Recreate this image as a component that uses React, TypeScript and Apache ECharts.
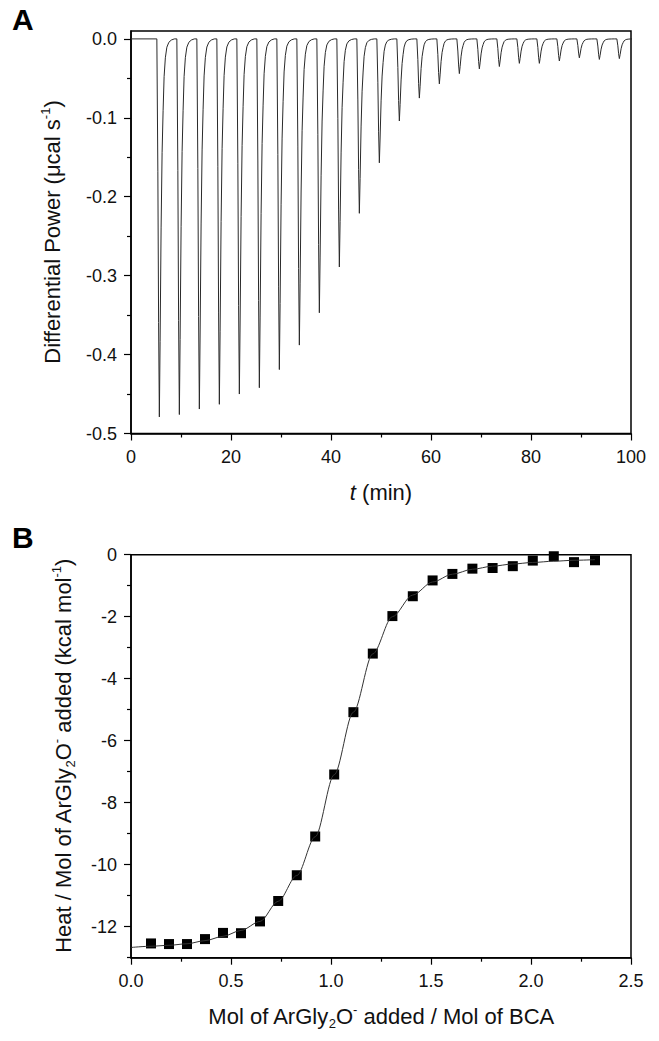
import React, { useEffect, useRef } from 'react';
import * as echarts from 'echarts';

// Panel A: ITC thermogram (injection times in min, peak minima in µcal/s)
const peakTimes = [5.67, 9.67, 13.67, 17.67, 21.67, 25.67, 29.67, 33.67, 37.67, 41.67, 45.67, 49.67, 53.67, 57.67, 61.67, 65.67, 69.67, 73.67, 77.67, 81.67, 85.67, 89.67, 93.67, 97.67];
const peakDepths = [-0.479, -0.476, -0.469, -0.463, -0.45, -0.442, -0.419, -0.388, -0.347, -0.289, -0.221, -0.157, -0.104, -0.075, -0.057, -0.044, -0.038, -0.035, -0.031, -0.031, -0.028, -0.024, -0.026, -0.025];
// shape of one injection peak (offset from minimum in min, fraction of depth)
const peakShapeDt = [-0.5, -0.3, -0.15, 0, 0.15, 0.35, 0.55, 0.75, 0.95, 1.2, 1.5, 1.9, 2.4, 3.0];
const peakShapeFrac = [0, 0.35, 0.75, 1, 0.8, 0.5, 0.3, 0.19, 0.1, 0.05, 0.022, 0.009, 0.003, 0];
const timeStart = 0;
const timeEnd = 100;

// Panel B: integrated heats
const molarRatio = [0.1, 0.19, 0.28, 0.37, 0.46, 0.55, 0.645, 0.736, 0.829, 0.921, 1.016, 1.112, 1.209, 1.307, 1.409, 1.508, 1.607, 1.707, 1.808, 1.909, 2.009, 2.114, 2.215, 2.32];
const heat = [-12.54, -12.56, -12.56, -12.4, -12.2, -12.21, -11.83, -11.17, -10.34, -9.09, -7.09, -5.08, -3.19, -1.98, -1.34, -0.83, -0.62, -0.45, -0.43, -0.37, -0.19, -0.05, -0.24, -0.18];
const fitRatio = [0, 0.1, 0.19, 0.28, 0.37, 0.46, 0.55, 0.645, 0.736, 0.829, 0.921, 1.016, 1.112, 1.209, 1.307, 1.409, 1.508, 1.607, 1.707, 1.808, 1.909, 2.009, 2.114, 2.215, 2.32];
const fitHeat = [-12.67, -12.63, -12.6, -12.55, -12.45, -12.31, -12.12, -11.83, -11.18, -10.35, -9.1, -7.1, -5.08, -3.2, -2.0, -1.3, -0.88, -0.63, -0.47, -0.37, -0.3, -0.25, -0.21, -0.18, -0.16];

// tick values
const yTicksA = [0, -0.1, -0.2, -0.3, -0.4, -0.5];
const yMinorA = [-0.05, -0.15, -0.25, -0.35, -0.45];
const yTicksB = [0, -2, -4, -6, -8, -10, -12];
const yMinorB = [-1, -3, -5, -7, -9, -11, -13];

const FONT = '"Liberation Sans", Arial, Helvetica, sans-serif';
const INK = '#111';

export default function App() {
  const ref = useRef<HTMLDivElement>(null);
  useEffect(() => {
    if (!ref.current) return;
    const chart = echarts.init(ref.current, undefined, { renderer: 'svg' });

    const trace: [number, number][] = [[timeStart, 0]];
    peakTimes.forEach((t, i) => {
      peakShapeDt.forEach((dt, j) => {
        trace.push([t + dt, peakDepths[i] * peakShapeFrac[j]]);
      });
    });
    trace.push([timeEnd, 0]);

    const axisLine = { show: true, onZero: false, lineStyle: { color: '#000', width: 1.5 } };
    const label = { fontSize: 18, color: INK, fontFamily: FONT, margin: 14 };
    const tickStyle = { color: '#000', width: 1.2 };

    const rich = {
      sup: { fontSize: 13, verticalAlign: 'top', lineHeight: 13, fontFamily: FONT, fill: INK },
      sub: { fontSize: 13, verticalAlign: 'bottom', lineHeight: 13, fontFamily: FONT, fill: INK },
      it: { fontStyle: 'italic', fontSize: 22, fontFamily: FONT, fill: INK },
    };
    const titleStyle = (text: string) => ({
      text,
      fontSize: 22,
      fontFamily: FONT,
      fill: INK,
      align: 'center',
      verticalAlign: 'middle',
      lineHeight: 27,
      rich,
    });

    chart.setOption({
      animation: false,
      backgroundColor: '#fff',
      grid: [
        { left: 131, top: 31, width: 500, height: 402.5, show: true, borderColor: '#000', borderWidth: 1.5, backgroundColor: 'transparent' },
        { left: 131, top: 554.7, width: 500, height: 403, show: true, borderColor: '#000', borderWidth: 1.5, backgroundColor: 'transparent' },
      ],
      xAxis: [
        {
          gridIndex: 0, type: 'value', min: 0, max: 100, interval: 20,
          axisLine, splitLine: { show: false },
          axisTick: { show: true, inside: false, length: 7, lineStyle: tickStyle },
          minorTick: { show: true, splitNumber: 2, length: 4, lineStyle: tickStyle },
          axisLabel: { ...label },
        },
        {
          gridIndex: 1, type: 'value', min: 0, max: 2.5, interval: 0.5,
          axisLine, splitLine: { show: false },
          axisTick: { show: true, inside: false, length: 7, lineStyle: tickStyle },
          minorTick: { show: true, splitNumber: 2, length: 4, lineStyle: tickStyle },
          axisLabel: { ...label, formatter: (v: number) => v.toFixed(1) },
        },
      ],
      yAxis: [
        {
          gridIndex: 0, type: 'value', min: -0.5, max: 0.01,
          axisLine, splitLine: { show: false },
          axisTick: { show: true, inside: false, length: 7, lineStyle: tickStyle, customValues: yTicksA },
          axisLabel: {
            ...label, customValues: yTicksA,
            formatter: (v: number) => (Math.abs(v) < 1e-9 ? '0.0' : v.toFixed(1)),
          },
        },
        {
          gridIndex: 0, type: 'value', min: -0.5, max: 0.01, position: 'left',
          axisLine: { show: false }, splitLine: { show: false },
          axisTick: { show: true, inside: false, length: 4, lineStyle: tickStyle, customValues: yMinorA },
          axisLabel: { show: false },
        },
        {
          gridIndex: 1, type: 'value', min: -13, max: 0,
          axisLine, splitLine: { show: false },
          axisTick: { show: true, inside: false, length: 7, lineStyle: tickStyle, customValues: yTicksB },
          axisLabel: { ...label, customValues: yTicksB, formatter: (v: number) => String(Math.round(v)) },
        },
        {
          gridIndex: 1, type: 'value', min: -13, max: 0, position: 'left',
          axisLine: { show: false }, splitLine: { show: false },
          axisTick: { show: true, inside: false, length: 4, lineStyle: tickStyle, customValues: yMinorB },
          axisLabel: { show: false },
        },
      ],
      series: [
        {
          type: 'line', xAxisIndex: 0, yAxisIndex: 0, data: trace,
          showSymbol: false, symbol: 'none',
          lineStyle: { color: '#2a2a2a', width: 1 },
        },
        {
          type: 'line', xAxisIndex: 1, yAxisIndex: 2,
          data: fitRatio.map((x, i) => [x, fitHeat[i]]),
          smooth: 0.3, smoothMonotone: 'x', showSymbol: false, symbol: 'none',
          lineStyle: { color: '#333', width: 1 },
        },
        {
          type: 'scatter', xAxisIndex: 1, yAxisIndex: 2,
          data: molarRatio.map((x, i) => [x, heat[i]]),
          symbol: 'rect', symbolSize: 10,
          itemStyle: { color: '#000', opacity: 1 },
        },
      ],
      graphic: [
        { type: 'text', x: 12, y: 19, style: { text: 'A', font: `bold 30px ${FONT}`, fill: '#000', align: 'left', verticalAlign: 'middle' } },
        { type: 'text', x: 12, y: 537, style: { text: 'B', font: `bold 30px ${FONT}`, fill: '#000', align: 'left', verticalAlign: 'middle' } },
        { type: 'text', x: 52, y: 232, rotation: Math.PI / 2, style: titleStyle('Differential Power (μcal s{sup|-1})') },
        { type: 'text', x: 381, y: 492, style: titleStyle('{it|t} (min)') },
        { type: 'text', x: 63, y: 756, rotation: Math.PI / 2, style: titleStyle('Heat / Mol of ArGly{sub|2}O{sup|-} added (kcal mol{sup|-1})') },
        { type: 'text', x: 381, y: 1016, style: titleStyle('Mol of ArGly{sub|2}O{sup|-} added / Mol of BCA') },
      ],
    });
    return () => chart.dispose();
  }, []);
  return <div ref={ref} style={{ position: 'fixed', left: 0, top: 0, width: 659, height: 1041 }} />;
}
